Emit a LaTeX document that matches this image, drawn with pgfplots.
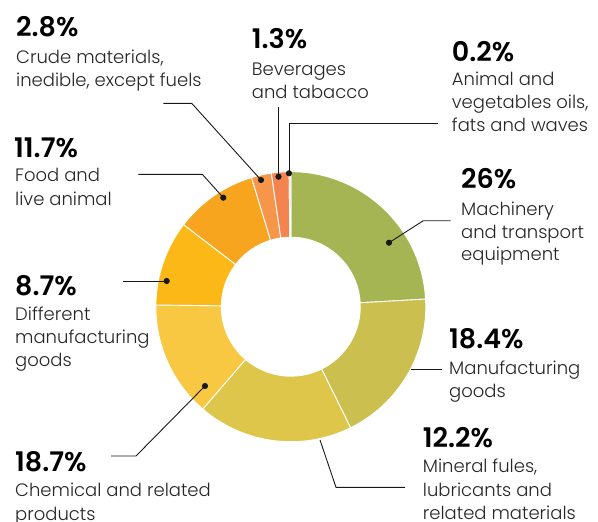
\documentclass[border=0pt]{standalone}
\usepackage{pgfplots}
\pgfplotsset{compat=1.18}
\usepackage{fontspec}
\setmainfont{Poppins}[UprightFont=* Light, BoldFont=* SemiBold]

\definecolor{cMach}{HTML}{A6B554}
\definecolor{cManu}{HTML}{CBC04F}
\definecolor{cMine}{HTML}{DEC64B}
\definecolor{cChem}{HTML}{F9C843}
\definecolor{cDiff}{HTML}{FBB817}
\definecolor{cFood}{HTML}{F7A41E}
\definecolor{cCrude}{HTML}{F6964A}
\definecolor{cBev}{HTML}{F3844F}
\definecolor{cOil}{HTML}{F5CDB8}

\begin{document}
\begin{tikzpicture}[
  pct/.style={anchor=base west, inner sep=0pt, font=\fontsize{27}{27}\selectfont\bfseries, text=black},
  txt/.style={anchor=base west, inner sep=0pt, font=\fontsize{18}{20}\selectfont, text=black!85},
  lead/.style={black!90, line width=0.9pt, mark=*, mark size=2.6pt, mark indices={1}},
]
\begin{axis}[
  scale only axis, width=598pt, height=522pt,
  xmin=0, xmax=598, ymin=0, ymax=522, y dir=reverse,
  hide axis, clip=false,
]
\coordinate (bl) at (axis cs:0,522);
\coordinate (tr) at (axis cs:598,0);

% drawn share of each ring segment (% of the circle), clockwise from the top
\xdef\angA{90}
\foreach \v/\c in {24.1/cMach,18.6/cManu,18.6/cMine,13.9/cChem,10.2/cDiff,9.9/cFood,2.4/cCrude,2.1/cBev,0.2/cOil}{
  \pgfmathsetmacro\angB{\angA-3.6*\v}
  \edef\temp{\noexpand\fill[\c, draw=white, line width=0.9pt] (axis cs:290.8,306.7) ++(\angA:135pt) arc[start angle=\angA, end angle=\angB, radius=135pt] -- ++({\angB+180}:65.5pt) arc[start angle=\angB, end angle=\angA, radius=69.5pt] -- cycle;}
  \temp
  \xdef\angA{\angB}
}

% leader lines
\addplot[lead] coordinates {(389,242.7) (423.3,220.7) (450.7,220.7)};
\addplot[lead, mark=none] coordinates {(411,369.3) (441.7,369.3)};
\addplot[lead, mark=none] coordinates {(320,440) (336,487.3) (405,487.3)};
\addplot[lead] coordinates {(205,386) (136,456) (111,456)};
\addplot[lead] coordinates {(166.7,281) (122.7,281)};
\addplot[lead] coordinates {(223.3,197.7) (202.3,174.3) (138.3,174.3)};
\addplot[lead] coordinates {(261,180) (191.7,103.3) (163.3,103.3)};
\addplot[lead] coordinates {(278.5,176.7) (278.5,107)};
\addplot[lead] coordinates {(289,173.3) (289,123) (438,123)};

% labels
\node[pct] at (axis cs:16,36) {2.8\%};
\node[txt] at (axis cs:16,63.3) {Crude materials,};
\node[txt] at (axis cs:16,86) {inedible, except fuels};

\node[pct] at (axis cs:251.7,48.3) {1.3\%};
\node[txt] at (axis cs:251.7,75) {Beverages};
\node[txt] at (axis cs:251.7,98.3) {and tabacco};

\node[pct] at (axis cs:451.7,61.7) {0.2\%};
\node[txt] at (axis cs:451.7,85) {Animal and};
\node[txt] at (axis cs:451.7,108.3) {vegetables oils,};
\node[txt] at (axis cs:451.7,131.7) {fats and waves};

\node[pct] at (axis cs:14,157.3) {11.7\%};
\node[txt] at (axis cs:15,181.7) {Food and};
\node[txt] at (axis cs:15,205) {live animal};

\node[pct] at (axis cs:461,188.3) {26\%};
\node[txt] at (axis cs:461,215) {Machinery};
\node[txt] at (axis cs:461,238.3) {and transport};
\node[txt] at (axis cs:461,260) {equipment};

\node[pct] at (axis cs:15,295) {8.7\%};
\node[txt] at (axis cs:15,320) {Different};
\node[txt] at (axis cs:15,343.3) {manufacturing};
\node[txt] at (axis cs:15,366.7) {goods};

\node[pct] at (axis cs:449,348.3) {18.4\%};
\node[txt] at (axis cs:449,374) {Manufacturing};
\node[txt] at (axis cs:449,397) {goods};

\node[pct] at (axis cs:422.7,447.7) {12.2\%};
\node[txt] at (axis cs:422.7,472) {Mineral fules,};
\node[txt] at (axis cs:422.7,496.7) {lubricants and};
\node[txt] at (axis cs:422.7,519) {related materials};

\node[pct] at (axis cs:15,471.7) {18.7\%};
\node[txt] at (axis cs:15,496.7) {Chemical and related};
\node[txt] at (axis cs:15,520) {products};
\end{axis}
\pgfresetboundingbox
\path[use as bounding box] (bl) rectangle (tr);
\end{tikzpicture}
\end{document}
